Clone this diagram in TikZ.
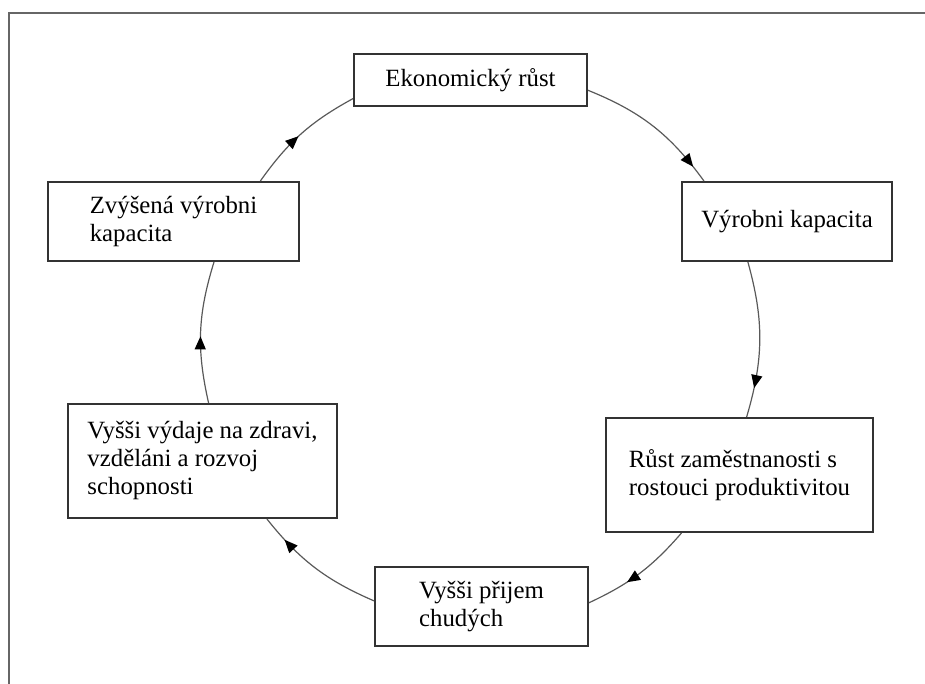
\documentclass[tikz,border=0pt]{standalone}
\usepackage{fontspec}
\setmainfont{Liberation Serif}
\newfontfamily\stagefont{Liberation Serif}
\usetikzlibrary{arrows.meta,decorations.markings}
\tikzset{
  stage/.style={draw=black!80,line width=1pt,fill=white,align=left,inner sep=0pt,
    font=\stagefont\fontsize{12.4}{14}\selectfont},
  loopline/.style={draw=black!65,line width=.6pt},
  tip at/.style={postaction={decorate},decoration={markings,
    mark=at position #1 with {\arrow[black]{Triangle[length=6.5pt,width=5.5pt]}}}}
}
\begin{document}
\begin{tikzpicture}[x=.5pt,y=-.5pt]
\useasboundingbox (0,0) rectangle (925,684);
\draw[black!60,line width=.75pt] (9,684) -- (9,13) -- (925,13);
%
\node[stage,minimum width=116.5pt,minimum height=26pt] (ekon) at (470.5,80) {Ekonomický růst};
\node[stage,minimum width=105pt,minimum height=39.5pt] (vyrob) at (787,221.5) {Výrobni kapacita};
\node[stage,minimum width=133.5pt,minimum height=57pt] (rust) at (739.5,475)
  {Růst zaměstnanosti s\\rostouci produktivitou};
\node[stage,minimum width=106.5pt,minimum height=39.5pt] (prijem) at (481.5,606.5)
  {Vyšši přijem\\chudých};
\node[stage,minimum width=134.5pt,minimum height=57pt] (vydaje) at (202.5,461)
  {Vyšši výdaje na zdravi,\\vzděláni a rozvoj\\schopnosti};
\node[stage,minimum width=125.5pt,minimum height=39.5pt] (zvys) at (173.5,221.5)
  {Zvýšená výrobni\\kapacita};
%
\draw[loopline,tip at=.88] (ekon.-5) to[bend left=16] (vyrob.154);
\draw[loopline,tip at=.81] (vyrob.-134) to[bend left=16] (rust.83);
\draw[loopline,tip at=.63] (rust.-135) to[bend left=12] (prijem.2);
\draw[loopline,tip at=.80] (prijem.177) to[bend left=14] (vydaje.-42);
\draw[loopline,tip at=.47] (vydaje.84) to[bend left=15] (zvys.-45);
\draw[loopline,tip at=.47] (zvys.25) to[bend left=13] (ekon.189);
\end{tikzpicture}
\end{document}
